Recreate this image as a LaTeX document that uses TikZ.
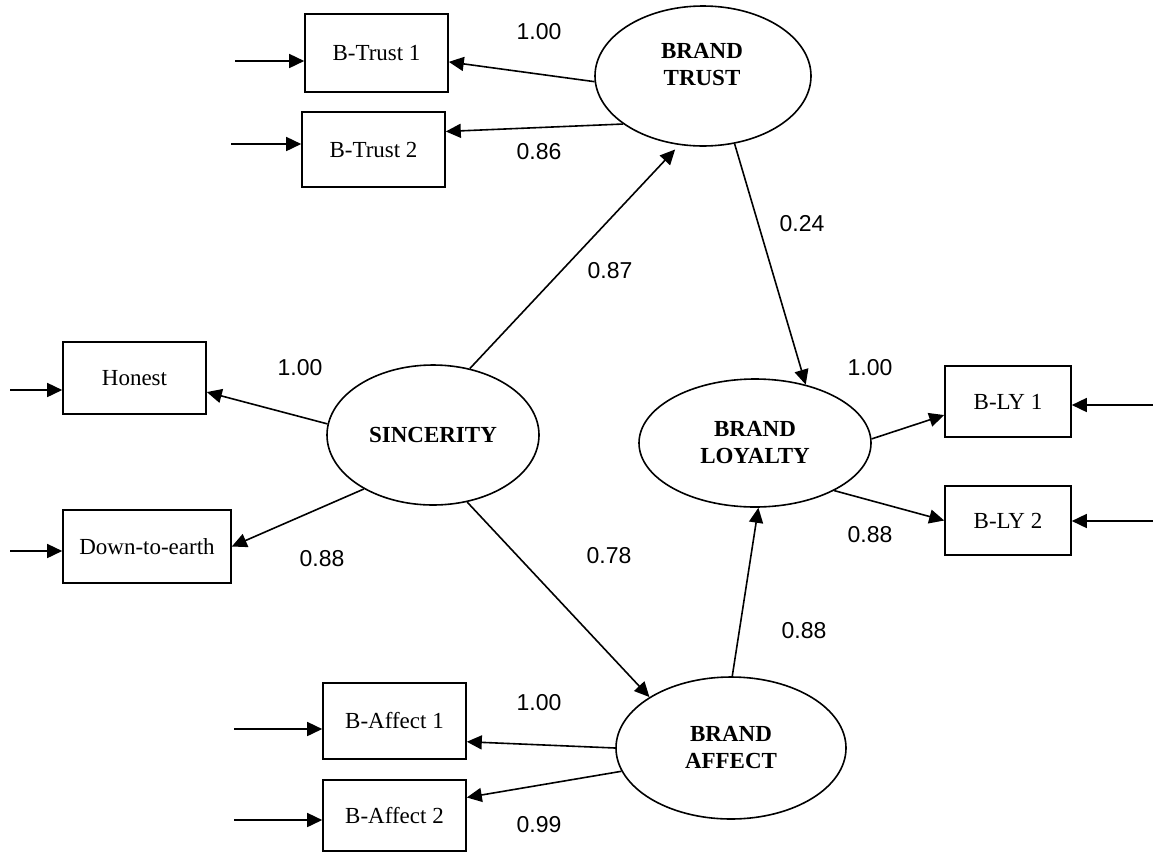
\documentclass[tikz,border=0pt]{standalone}
\usepackage{fontspec}
\setmainfont{Liberation Serif}
\newfontfamily\numfont{Liberation Sans}
\usetikzlibrary{arrows.meta,shapes.geometric}
\begin{document}
\begin{tikzpicture}[x=1pt,y=-1pt,line width=1.6pt,
  font=\fontsize{23}{27}\selectfont,
  >={Triangle[length=15pt,width=14pt]},
  obs/.style={draw,rectangle,inner sep=0pt,minimum width=143pt},
  lat/.style={draw,ellipse,inner sep=0pt,align=center,font=\fontsize{23}{27}\selectfont\bfseries},
  load/.style={font=\numfont\fontsize{23}{27}\selectfont}]
\useasboundingbox (0,0) rectangle (1153,852);
\node[lat,minimum width=216pt,minimum height=140pt] (bt) at (703,76) {};
\node[lat,draw=none] (bttext) at (702,65) {BRAND\\TRUST};
\node[lat,minimum width=212pt,minimum height=140pt] (sinc) at (433,435) {SINCERITY};
\node[lat,minimum width=232pt,minimum height=128pt] (bl) at (755,443) {BRAND\\LOYALTY};
\node[lat,minimum width=230pt,minimum height=142pt] (ba) at (731,748) {BRAND\\AFFECT};
\node[obs,minimum height=78pt] (bt1) at (376.5,53) {B-Trust 1};
\node[obs,minimum height=75pt] (bt2) at (373.5,149.5) {B-Trust 2};
\node[obs,minimum height=72pt] (hon) at (134.5,378) {Honest};
\node[obs,minimum width=168pt,minimum height=73pt] (dte) at (147,546.5) {Down-to-earth};
\node[obs,minimum width=126pt,minimum height=71pt] (bly1) at (1008,401.5) {B-LY 1};
\node[obs,minimum width=126pt,minimum height=69pt] (bly2) at (1008,520.5) {B-LY 2};
\node[obs,minimum height=76pt] (ba1) at (394.5,721) {B-Affect 1};
\node[obs,minimum height=71pt] (ba2) at (394.5,815.5) {B-Affect 2};
\coordinate (e1) at (235,61);
\coordinate (e2) at (231,144);
\coordinate (e3) at (10,390);
\coordinate (e4) at (10,551);
\coordinate (e5) at (1153,405);
\coordinate (e6) at (1153,521);
\coordinate (e7) at (234,729);
\coordinate (e8) at (234,820);
\draw[->] (e1) -- (e1 -| bt1.west);
\draw[->] (e2) -- (e2 -| bt2.west);
\draw[->] (e3) -- (e3 -| hon.west);
\draw[->] (e4) -- (e4 -| dte.west);
\draw[->] (e5) -- (e5 -| bly1.east);
\draw[->] (e6) -- (e6 -| bly2.east);
\draw[->] (e7) -- (e7 -| ba1.west);
\draw[->] (e8) -- (e8 -| ba2.west);
\draw[->] (bt.183) -- (bt1.353);
\draw[->] (bt.211) -- (bt2.14);
\draw[->,shorten >=6pt] (sinc.61) -- (bt.251);
\draw[->] (bt.295) -- (bl.49);
\draw[->] (sinc.174) -- (hon.349);
\draw[->] (sinc.218) -- (dte.east);
\draw[->] (sinc.297) -- (ba.148);
\draw[->] (ba.89) -- (bl.273);
\draw[->] (ba.180) -- (ba1.344);
\draw[->] (ba.192) -- (ba2.14);
\draw[->] (bl.2) -- (bly1.192);
\draw[->] (bl.329) -- (bly2.west);
\node[load] (w1) at (539,32) {1.00};
\node[load] (w2) at (539,152) {0.86};
\node[load] (w3) at (300,368) {1.00};
\node[load] (w4) at (322,559) {0.88};
\node[load] (w5) at (610,271) {0.87};
\node[load] (w6) at (802,224) {0.24};
\node[load] (w7) at (870,368) {1.00};
\node[load] (w8) at (870,535) {0.88};
\node[load] (w9) at (609,556) {0.78};
\node[load] (w10) at (804,631) {0.88};
\node[load] (w11) at (539,703) {1.00};
\node[load] (w12) at (539,825) {0.99};
\end{tikzpicture}
\end{document}
